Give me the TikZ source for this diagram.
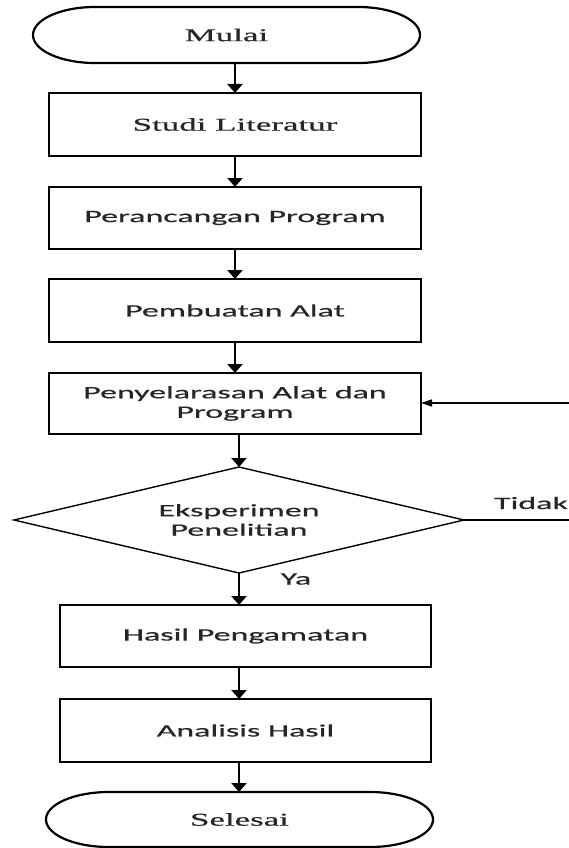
\documentclass[tikz,border=0pt]{standalone}
\usepackage{fontspec}
\newfontfamily\sansw{Carlito}[FakeStretch=1.95,FakeBold=0.6]
\newfontfamily\serifw{Liberation Serif}[FakeStretch=1.94,FakeBold=0.6]
\usetikzlibrary{arrows.meta}
\definecolor{txt}{HTML}{262626}
\begin{document}
\begin{tikzpicture}[x=1pt,y=-1pt,
  sanstext/.style={font=\sansw\fontsize{17.4pt}{19.5pt}\selectfont, text=txt},
  seriftext/.style={font=\serifw\fontsize{18pt}{20pt}\selectfont, text=txt},
  procbox/.style={sanstext, draw, line width=2.6pt, minimum width=372pt,
    minimum height=62pt, inner sep=0pt, outer sep=0pt, align=center},
  sprocbox/.style={procbox, seriftext},
  termnode/.style={seriftext, minimum width=387pt, minimum height=56pt,
    inner sep=0pt, outer sep=0pt},
  termline/.style={line width=2.2pt},
  decision/.style={sanstext, minimum width=450pt, minimum height=106pt,
    inner sep=0pt, outer sep=0pt, align=center},
  decline/.style={line width=1.4pt},
  arr/.style={line width=2.8pt, -{Triangle[width=15pt,length=9pt]}},
  thinline/.style={line width=1.5pt},
  fbarr/.style={line width=1.5pt, -{Triangle[width=7pt,length=11pt]}},
  lbl/.style={sanstext, inner sep=0pt}
]
\useasboundingbox (0,0) rectangle (569,848);

% terminals
\node[termnode] (mulai) at (226.5,35) {Mulai};
\draw[termline] ([xshift=62pt]mulai.north west) -- ([xshift=-62pt]mulai.north east)
  arc[start angle=90,end angle=-90,x radius=62pt,y radius=28pt]
  -- ([xshift=62pt]mulai.south west)
  arc[start angle=270,end angle=90,x radius=62pt,y radius=28pt] -- cycle;

% process boxes
\node[sprocbox, minimum height=63pt] (studi) at (235,124.5) {Studi Literatur};
\node[procbox] (peran) at (235,218) {Perancangan Program};
\node[procbox, minimum height=63pt] (pemb) at (235,310.5) {Pembuatan Alat};
\node[procbox, minimum height=61pt] (peny) at (235,403.5) {Penyelarasan Alat dan\\Program};

% decision
\node[decision] (eks) at (239,520) {Eksperimen\\Penelitian};
\draw[decline] (eks.north) -- (eks.east) -- (eks.south) -- (eks.west) -- cycle;

\node[procbox, minimum width=371pt] (hasil) at (245.5,636) {Hasil Pengamatan};
\node[procbox, minimum width=371pt, minimum height=63pt] (anal) at (245.5,730.5) {Analisis Hasil};

\node[termnode, minimum height=55pt] (selesai) at (239.5,819.5) {Selesai};
\draw[termline] ([xshift=63pt]selesai.north west) -- ([xshift=-63pt]selesai.north east)
  arc[start angle=90,end angle=-90,x radius=63pt,y radius=27.5pt]
  -- ([xshift=63pt]selesai.south west)
  arc[start angle=270,end angle=90,x radius=63pt,y radius=27.5pt] -- cycle;

% labels
\node[lbl] (tidak) at (531,503) {Tidak};
\node[lbl] (ya) at (296,579) {Ya};

% connectors
\draw[arr] (mulai.south -| studi.north) -- (studi.north);
\draw[arr] (studi.south) -- (peran.north);
\draw[arr] (peran.south) -- (pemb.north);
\draw[arr] (pemb.south) -- (peny.north);
\draw[arr] (peny.south -| eks.north) -- (eks.north);
\draw[arr] (eks.south) -- (eks.south |- hasil.north);
\draw[arr] (hasil.south -| eks.south) -- (eks.south |- anal.north);
\draw[arr] (anal.south -| eks.south) -- (eks.south |- selesai.north);

\coordinate (rtop) at (569,403);
\coordinate (rbot) at (569,520);
\draw[thinline] (eks.east) -- (rbot);
\draw[fbarr] (rtop) -- (peny.east |- rtop);
\end{tikzpicture}
\end{document}
